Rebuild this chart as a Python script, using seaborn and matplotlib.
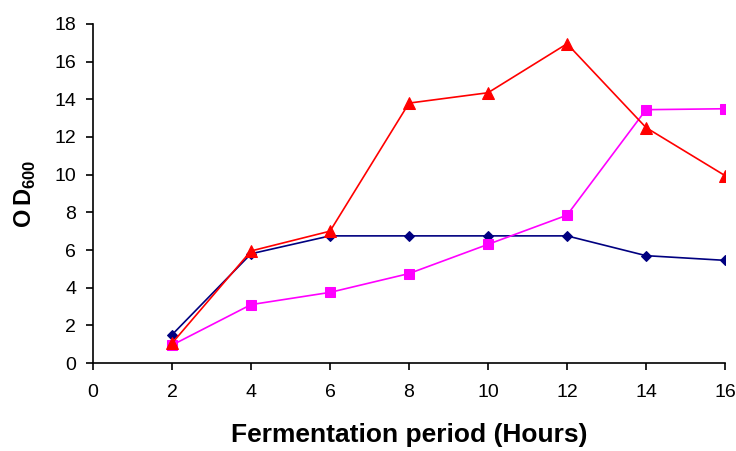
import pandas as pd
import seaborn as sns
import matplotlib.pyplot as plt

hours = [2, 4, 6, 8, 10, 12, 14, 16]
blue_od = [1.5, 5.8, 6.75, 6.75, 6.75, 6.75, 5.7, 5.45]
magenta_od = [0.95, 3.1, 3.75, 4.75, 6.3, 7.85, 13.45, 13.5]
red_od = [1.05, 5.95, 7.0, 13.8, 14.35, 16.95, 12.5, 9.95]

x_ticks = list(range(0, 17, 2))
y_ticks = list(range(0, 19, 2))

df = pd.DataFrame({
    'Hours': hours * 3,
    'OD': blue_od + magenta_od + red_od,
    'Series': ['blue'] * 8 + ['magenta'] * 8 + ['red'] * 8,
})

sns.set_style('ticks')
plt.rcParams['font.family'] = ['Liberation Sans', 'DejaVu Sans']
plt.rcParams['mathtext.fontset'] = 'custom'
plt.rcParams['mathtext.bf'] = 'Liberation Sans:bold'
plt.rcParams['mathtext.rm'] = 'Liberation Sans'
plt.rcParams['text.color'] = 'black'
plt.rcParams['axes.labelcolor'] = 'black'
plt.rcParams['xtick.color'] = 'black'
plt.rcParams['ytick.color'] = 'black'

fig = plt.figure(figsize=(7.36, 4.51), dpi=100)
ax = fig.add_axes([0.1264, 0.1951, 0.8587, 0.7517])

colors = {'blue': '#000080', 'magenta': '#FF00FF', 'red': '#FF0000'}
markers = {'blue': 'D', 'magenta': 's', 'red': '^'}
sizes = {'blue': 5.5, 'magenta': 7, 'red': 8}
for name in ['blue', 'magenta', 'red']:
    sub = df[df['Series'] == name]
    sns.lineplot(data=sub, x='Hours', y='OD', ax=ax, color=colors[name],
                 marker=markers[name], markersize=sizes[name],
                 markeredgecolor=colors[name], linewidth=1.2)

ax.set_xlim(0, 16)
ax.set_ylim(0, 18)
ax.set_xticks(x_ticks)
ax.set_yticks(y_ticks)
ax.tick_params(labelsize=14, width=1.2, direction='out')
ax.tick_params(axis='x', length=5, pad=10)
ax.tick_params(axis='y', length=5, pad=7)
for s in ['left', 'bottom']:
    ax.spines[s].set_linewidth(1.2)
    ax.spines[s].set_color('black')
sns.despine(ax=ax)
ax.set_xlabel('Fermentation period (Hours)', fontsize=19, fontweight='bold', labelpad=16)
ax.set_ylabel('$\\mathbf{O\\,D}_{\\mathbf{600}}$', fontsize=17, labelpad=12)

fig.savefig('out.png', dpi=100)
